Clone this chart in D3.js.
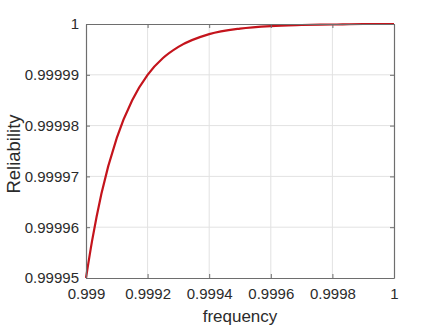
<!DOCTYPE html>
<html>
<head>
<meta charset="utf-8">
<script src="https://cdn.jsdelivr.net/npm/d3@7"></script>
<style>
  body { margin: 0; background: #fff; }
  svg { display: block; font-family: "Liberation Sans", Arial, sans-serif; }
</style>
</head>
<body>
<svg id="chart" width="435" height="327"></svg>
<script>
// values
const frequency = [0.999, 0.99902, 0.99905, 0.9991, 0.99915, 0.9992, 0.99925, 0.9993,
    0.9994, 0.9995, 0.9996, 0.9997, 0.9998, 0.9999, 1]
const reliability = [0.99995, 0.9999574, 0.9999666, 0.9999776, 0.999985, 0.99999, 0.9999933,
    0.9999955, 0.999998, 0.9999991, 0.9999996, 0.9999998, 0.9999999, 1, 1]
const xTicks = [0.999, 0.9992, 0.9994, 0.9996, 0.9998, 1]
const yTicks = [0.99995, 0.99996, 0.99997, 0.99998, 0.99999, 1]

const svg = d3.select('#chart')
const margin = { top: 24, right: 41, bottom: 49, left: 86 }
const width = 435 - margin.left - margin.right
const height = 327 - margin.top - margin.bottom
const axisColor = '#6e6e6e'
const textColor = '#2b2b2b'

const x = d3.scaleLinear().domain([0.999, 1]).range([0, width])
const y = d3.scaleLinear().domain([0.99995, 1]).range([height, 0])

const g = svg.append('g').attr('transform', `translate(${margin.left},${margin.top})`)

// grid
g.append('g')
    .attr('stroke', '#e2e2e2')
    .selectAll('line.v')
    .data(xTicks.slice(1, -1))
    .join('line')
    .attr('x1', d => x(d)).attr('x2', d => x(d))
    .attr('y1', 0).attr('y2', height)
g.append('g')
    .attr('stroke', '#e2e2e2')
    .selectAll('line.h')
    .data(yTicks.slice(1, -1))
    .join('line')
    .attr('x1', 0).attr('x2', width)
    .attr('y1', d => y(d)).attr('y2', d => y(d))

// curve
const line = d3.line()
    .x((d, i) => x(frequency[i]))
    .y(d => y(d))
    .curve(d3.curveMonotoneX)

g.append('path')
    .datum(reliability)
    .attr('fill', 'none')
    .attr('stroke', '#c4141c')
    .attr('stroke-width', 2.2)
    .attr('d', line)

// axes, ticks pointing inward on all four sides
function styleAxis(sel) {
    sel.select('.domain').attr('stroke', axisColor).attr('stroke-width', 1.2)
    sel.selectAll('.tick line').attr('stroke', axisColor)
    sel.selectAll('.tick text')
        .attr('fill', textColor)
        .style('font-size', '15px')
}

const fmt = d => d3.format('')(+d.toFixed(6))

g.append('g')
    .attr('transform', `translate(0,${height})`)
    .call(d3.axisBottom(x).tickValues(xTicks).tickFormat(fmt).tickSizeInner(-4).tickSizeOuter(0).tickPadding(10))
    .call(styleAxis)
g.append('g')
    .call(d3.axisLeft(y).tickValues(yTicks).tickFormat(fmt).tickSizeInner(-4).tickSizeOuter(0).tickPadding(7))
    .call(styleAxis)
g.append('g')
    .call(d3.axisTop(x).tickValues(xTicks).tickFormat('').tickSizeInner(-4).tickSizeOuter(0))
    .call(styleAxis)
g.append('g')
    .attr('transform', `translate(${width},0)`)
    .call(d3.axisRight(y).tickValues(yTicks).tickFormat('').tickSizeInner(-4).tickSizeOuter(0))
    .call(styleAxis)

// labels
svg.append('text')
    .attr('x', margin.left + width / 2)
    .attr('y', 322)
    .attr('text-anchor', 'middle')
    .attr('fill', textColor)
    .style('font-size', '17px')
    .text('frequency')

svg.append('text')
    .attr('transform', `translate(20,${margin.top + height / 2 + 3}) rotate(-90)`)
    .attr('text-anchor', 'middle')
    .attr('fill', textColor)
    .style('font-size', '18.5px')
    .text('Reliability')
</script>
</body>
</html>
